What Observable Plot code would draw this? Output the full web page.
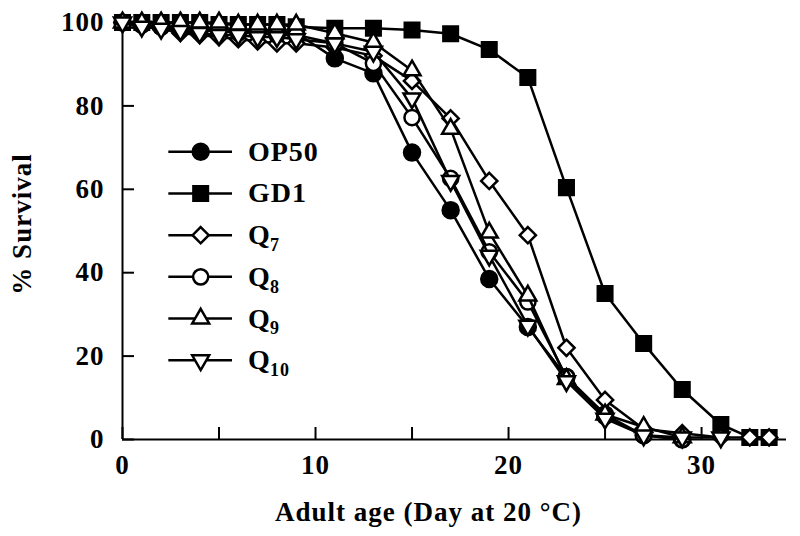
<!DOCTYPE html>
<html><head><meta charset="utf-8">
<script src="https://cdn.jsdelivr.net/npm/d3@7"></script>
<script src="https://cdn.jsdelivr.net/npm/@observablehq/plot@0.6"></script>
<style>
body{margin:0;background:#fff}
#chart svg{font-family:"Liberation Serif","Times New Roman",serif;}
</style>
</head><body><div id="chart"></div>
<script>
// ---- data ----
const seriesNames = ["OP50","GD1","Q7","Q8","Q9","Q10"];
const legendBase = ["OP50","GD1","Q","Q","Q","Q"];
const legendSub  = ["","","7","8","9","10"];

const daysOP50 = [0,1,2,3,4,5,6,7,8,9,11,13,15,17,19,21,23,25,27,29];
const survOP50 = [100,99.5,99,99,98.5,98.5,98,98,98,97.5,91.4,87.8,68.8,55,38.5,27,15,6,1,0];

const daysGD1 = [0,1,2,3,4,5,6,7,8,9,11,13,15,17,19,21,23,25,27,29,31,32.5,33.5];
const survGD1 = [100,100,100,100,100,99.5,99.5,99.5,99.5,99,98.6,98.6,98.2,97.3,93.5,86.8,60.4,35,23,12,3.6,0.5,0.5];

const daysQ7 = [0,1,2,3,4,5,6,7,8,9,11,13,15,17,19,21,23,25,27,29,31,32.5,33.5];
const survQ7 = [100,99,98.5,97.5,97,96.5,96,95.5,95,95,94,92,86,77,62,49,22,9.5,2.5,1.5,0.5,0.5,0.5];

const daysQ8 = [0,1,2,3,4,5,6,7,8,9,11,13,15,17,19,21,23,25,27,29];
const survQ8 = [100,99.5,99,98.5,98,98,97.5,97.5,97,97,95,90.2,77.2,62.6,45,33,15,5.5,1,0];

const daysQ9 = [0,1,2,3,4,5,6,7,8,9,11,13,15,17,19,21,23,25,27,29];
const survQ9 = [100,100,100,100,100,100,99.5,99.5,99.5,99.5,97.4,95.2,88.5,74.5,49.6,34.5,14.5,6,3,0.5];

const daysQ10 = [0,1,2,3,4,5,6,7,8,9,11,13,15,17,19,21,23,25,27,29,31];
const survQ10 = [100,99,98.5,98,97.5,97,97,96.5,96.5,96,95,93,81.8,62,44.1,27.3,14,5,1,0.5,0.5];

const xTickValues = [0,5,10,15,20,25,30];
const xTickLabels = [0,10,20,30];
const yTickValues = [0,20,40,60,80,100];
const xTitle = "Adult age (Day at 20 °C)";
const yTitle = "% Survival";

// ---- layout ----
const W = 800, H = 536, mL = 122, mR = 14, mT = 22, mB = 97;
const plotW = W - mL - mR, plotH = H - mT - mB;
const FS = 27;

const triangleDown = {
  draw(ctx, size) {
    const y = -Math.sqrt(size / (Math.sqrt(3) * 3));
    ctx.moveTo(0, -y * 2);
    ctx.lineTo(-Math.sqrt(3) * y, y);
    ctx.lineTo(Math.sqrt(3) * y, y);
    ctx.closePath();
  }
};

const styles = [
  {symbol: "circle",   fill: "black", r: 8},
  {symbol: "square",   fill: "black", r: 8.2},
  {symbol: "diamond2", fill: "white", r: 7.3},
  {symbol: "circle",   fill: "white", r: 7.6},
  {symbol: "triangle", fill: "white", r: 6.3},
  {symbol: triangleDown, fill: "white", r: 6.3}
];
const allDays = [daysOP50, daysGD1, daysQ7, daysQ8, daysQ9, daysQ10];
const allSurv = [survOP50, survGD1, survQ7, survQ8, survQ9, survQ10];

const marks = [];
marks.push(Plot.ruleY([0], {strokeWidth: 2}));
marks.push(Plot.ruleX([0], {strokeWidth: 2}));
marks.push(Plot.tickX(xTickValues, {x: d => d, insetTop: plotH - 12, strokeWidth: 2}));
marks.push(Plot.tickY(yTickValues, {y: d => d, insetRight: plotW - 12, strokeWidth: 2}));

seriesNames.forEach((name, k) => {
  const rows = allDays[k].map((d, i) => ({day: d, s: allSurv[k][i]}));
  const st = styles[k];
  marks.push(Plot.line(rows, {x: "day", y: "s", stroke: "black", strokeWidth: 2.5}));
  marks.push(Plot.dot(rows, {x: "day", y: "s", symbol: st.symbol, r: st.r, fill: st.fill, stroke: "black", strokeWidth: 2.5}));
});

// legend (in data units)
const legX1 = 2.4, legX2 = 5.7, legXm = 4.05, legTextX = 6.5, legTop = 69, legStep = 10;
seriesNames.forEach((name, k) => {
  const row = [{y: legTop - legStep * k}];
  const st = styles[k];
  marks.push(Plot.ruleY(row, {y: "y", x1: legX1, x2: legX2, strokeWidth: 2.5}));
  marks.push(Plot.dot(row, {x: legXm, y: "y", symbol: st.symbol, r: st.r, fill: st.fill, stroke: "black", strokeWidth: 2.5}));
  marks.push(Plot.text(row, {x: legTextX, y: "y", text: () => legendBase[k], textAnchor: "start", fontSize: FS + 1, fontWeight: "bold"}));
  if (legendSub[k]) marks.push(Plot.text(row, {x: legTextX, y: "y", text: () => legendSub[k], textAnchor: "start", dx: 22, dy: 10, fontSize: 18, fontWeight: "bold"}));
});

marks.push(Plot.text([xTitle], {frameAnchor: "bottom", lineAnchor: "middle", textAnchor: "middle", dy: 73, dx: -26, fontSize: FS, fontWeight: "bold"}));
marks.push(Plot.text([yTitle], {frameAnchor: "left", lineAnchor: "middle", textAnchor: "middle", dx: -100, dy: -7, rotate: -90, fontSize: FS, fontWeight: "bold"}));

marks.push(Plot.axisX({ticks: xTickLabels, tickSize: 0, tickPadding: 15, label: null, fontSize: FS, fontWeight: "bold"}));
marks.push(Plot.axisY({ticks: yTickValues, tickSize: 0, tickPadding: 18, label: null, fontSize: FS, fontWeight: "bold"}));

const chart = Plot.plot({
  width: W, height: H,
  marginLeft: mL, marginRight: mR, marginTop: mT, marginBottom: mB,
  x: {domain: [0, 34.4]},
  y: {domain: [0, 100]},
  style: {fontFamily: "'Liberation Serif','Times New Roman',serif", fontSize: FS + "px", letterSpacing: "1px", color: "black", background: "white"},
  marks
});
document.getElementById("chart").appendChild(chart);
</script>
</body></html>
